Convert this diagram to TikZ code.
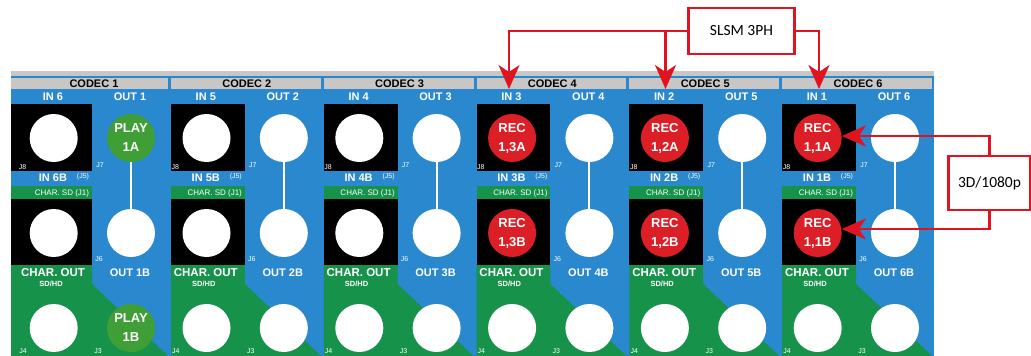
\documentclass[tikz,border=0pt]{standalone}
\usepackage{fontspec}
\setmainfont{Liberation Sans}
\newfontfamily\calloutfont{Carlito}
\usetikzlibrary{arrows.meta}

\definecolor{panelblue}{HTML}{2A88CE}
\definecolor{chargreen}{HTML}{16924A}
\definecolor{playgreen}{HTML}{3F9E35}
\definecolor{recred}{HTML}{DC1F26}
\definecolor{stripgray}{HTML}{C9C7C5}
\definecolor{wirered}{HTML}{E0141F}

\tikzset{
  jackhole/.style={circle, fill=white, minimum size=48pt, inner sep=0pt},
  recjack/.style={jackhole, fill=recred, text=white, align=center, font=\bfseries\fontsize{13}{19}\selectfont},
  playjack/.style={recjack, fill=playgreen},
  portlabel/.style={text=white, inner sep=0pt, font=\bfseries\fontsize{11}{12}\selectfont},
  tinylabel/.style={text=white, inner sep=0pt, font=\fontsize{7}{8}\selectfont},
  callout/.style={draw=wirered, line width=2.5pt, fill=white, inner sep=0pt, font=\calloutfont\fontsize{15.5}{17}\selectfont},
  wire/.style={draw=wirered, line width=2.5pt, -{Stealth[length=24pt, width=21pt, inset=7pt]}}
}

\begin{document}
\begin{tikzpicture}[x=1pt, y=-1pt]
\useasboundingbox (0,0) rectangle (1031,356);

% Panel background
\fill[panelblue] (11,76) rectangle (934,356);
\fill[stripgray] (11,71) rectangle (934,76);

% One codec column at a time
\foreach \k/\inid/\c in {0/6/1, 1/5/2, 2/4/3, 3/3/4, 4/2/5, 5/1/6} {
\begin{scope}[xshift=\k*152.8pt]
\pgfmathsetmacro{\leftx}{\k==0 ? 11 : 18.2}

% Header
\fill[stripgray] (\leftx,78) rectangle (168,89);
\node[inner sep=0pt, font=\bfseries\fontsize{11}{12}\selectfont] (codec\c) at (94,84) {CODEC \c};
\node[portlabel] (inlabel\c) at (53,97) {IN \inid};
\node[portlabel] (outlabel\c) at (130,97) {OUT \c};

% Black input blocks and green strip
\fill[black] (\leftx,104) rectangle (92,171);
\fill[chargreen] (\leftx,186) rectangle (92,199);
\fill[black] (\leftx,199) rectangle (92,265);
\node[portlabel] (inblabel\c) at (53,178) {IN \inid B};
\node[tinylabel] (jfive\c) at (83,177) {(J5)};
\node[text=white, inner sep=0pt, font=\fontsize{8}{9}\selectfont] (charsd\c) at (62,193) {CHAR. SD (J1)};

% Green output corner
\fill[chargreen] (\leftx,265) -- (92,265) -- (92,284) -- (168,356) -- (\leftx,356) -- cycle;
\node[portlabel, font=\bfseries\fontsize{11.5}{12}\selectfont] (charout\c) at (53,273) {CHAR. OUT};
\node[tinylabel, font=\bfseries\fontsize{7.5}{8}\selectfont] (sdhd\c) at (51,284) {SD/HD};
\node[portlabel] (outblabel\c) at (130,273) {OUT \c B};

% White link between the out jacks
\fill[white] (130,150) rectangle (132,220);

% Plain jacks found in every column
\node[jackhole] (charjack\c) at (53.7,328) {};
\node[tinylabel] (jeight\c) at (22.5,167) {J8};
\node[tinylabel] (jseven\c) at (100,165) {J7};
\node[tinylabel] (jsix\c) at (99,259) {J6};
\node[tinylabel] (jfour\c) at (23,351) {J4};
\node[tinylabel] (jthree\c) at (98,351) {J3};
\node[jackhole] (outb\c) at (131,233) {};
\end{scope}
}

% Out jacks, codec 1 is in use
\node[playjack] (play1a) at (131,138) {PLAY\\1A};
\node[playjack] (play1b) at (131,328) {PLAY\\1B};
\foreach \k/\c in {1/2, 2/3, 3/4, 4/5, 5/6} {
\begin{scope}[xshift=\k*152.8pt]
\node[jackhole] (outa\c) at (131,138) {};
\node[jackhole] (outc\c) at (131,328) {};
\end{scope}
}

% In jacks, free on codecs 1 to 3
\foreach \k/\c in {0/1, 1/2, 2/3} {
\begin{scope}[xshift=\k*152.8pt]
\node[jackhole] (ina\c) at (53.7,138) {};
\node[jackhole] (inb\c) at (53.7,233) {};
\end{scope}
}

% In jacks, recording on codecs 4 to 6
\begin{scope}[xshift=458.4pt]
\node[recjack] (rec4a) at (53.7,138) {REC\\1,3A};
\node[recjack] (rec4b) at (53.7,233) {REC\\1,3B};
\end{scope}
\begin{scope}[xshift=611.2pt]
\node[recjack] (rec5a) at (53.7,138) {REC\\1,2A};
\node[recjack] (rec5b) at (53.7,233) {REC\\1,2B};
\end{scope}
\begin{scope}[xshift=764pt]
\node[recjack] (rec6a) at (53.7,138) {REC\\1,1A};
\node[recjack] (rec6b) at (53.7,233) {REC\\1,1B};
\end{scope}

% SLSM 3PH callout
\node[callout, minimum width=106pt, minimum height=46pt] (slsm) at (741.5,31) {SLSM 3PH};
\coordinate (tip4) at (509,89);
\coordinate (tip5) at (665.5,89);
\coordinate (tip6) at (819,89);
\draw[wire] (slsm.west) -| (tip4);
\draw[wire] (slsm.west -| tip5) -- (tip5);
\draw[wire] (slsm.east) -| (tip6);

% 3D/1080p callout
\node[callout, minimum width=82pt, minimum height=54pt] (hdbox) at (989.5,183) {3D/1080p};
\draw[wire] (hdbox.north) |- ([yshift=2pt]rec6a.east);
\draw[wire] (hdbox.south) |- ([yshift=4pt]rec6b.east);

\end{tikzpicture}
\end{document}
